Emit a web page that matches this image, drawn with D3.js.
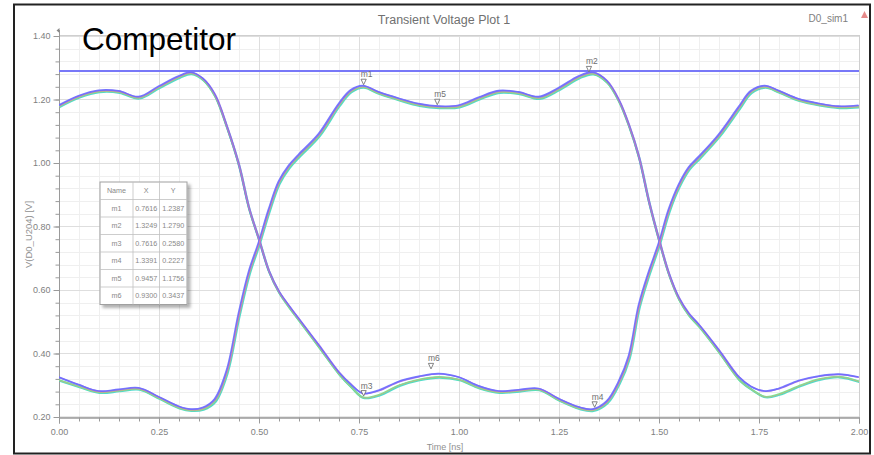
<!DOCTYPE html>
<html>
<head>
<meta charset="utf-8">
<script src="https://cdn.jsdelivr.net/npm/d3@7"></script>
<style>
  html, body { margin: 0; padding: 0; background: #fff; }
  svg { display: block; font-family: "Liberation Sans", Arial, sans-serif; }
</style>
</head>
<body>
<svg id="chart" width="874" height="455"></svg>
<script>
// ---------------- DATA ----------------
const chartTitle = "Transient Voltage Plot 1";
const simName = "D0_sim1";
const overlayText = "Competitor";
const xAxisTitle = "Time [ns]";
const yAxisTitle = "V(D0_U204) [V]";

const xTickValues = [0, 0.25, 0.5, 0.75, 1.0, 1.25, 1.5, 1.75, 2.0];
const xTickLabels = ["0.00", "0.25", "0.50", "0.75", "1.00", "1.25", "1.50", "1.75", "2.00"];
const yTickValues = [0.2, 0.4, 0.6, 0.8, 1.0, 1.2, 1.4];
const yTickLabels = ["0.20", "0.40", "0.60", "0.80", "1.00", "1.20", "1.40"];

const refLevel = 1.29;

const times = [0, 0.05, 0.1, 0.15, 0.2, 0.25, 0.3, 0.33, 0.36, 0.39, 0.42, 0.45, 0.475, 0.5, 0.525, 0.55, 0.575, 0.6, 0.65, 0.7, 0.73, 0.76, 0.8, 0.85, 0.9, 0.95, 1.0, 1.05, 1.1, 1.15, 1.2, 1.25, 1.3, 1.335, 1.37, 1.4, 1.425, 1.45, 1.475, 1.5, 1.525, 1.55, 1.575, 1.6, 1.65, 1.7, 1.73, 1.765, 1.8, 1.85, 1.9, 1.95, 2.0];

// trace starting high (falls at 0.5 ns, rises at 1.5 ns)
const traceA_blue  = [1.18, 1.21, 1.227, 1.225, 1.207, 1.24, 1.272, 1.284, 1.265, 1.215, 1.115, 0.995, 0.86, 0.76, 0.66, 0.595, 0.55, 0.508, 0.425, 0.34, 0.302, 0.273, 0.282, 0.31, 0.326, 0.335, 0.324, 0.296, 0.28, 0.284, 0.288, 0.256, 0.23, 0.223, 0.248, 0.31, 0.39, 0.55, 0.655, 0.745, 0.852, 0.93, 0.985, 1.018, 1.088, 1.175, 1.225, 1.242, 1.226, 1.2, 1.186, 1.177, 1.18];
const traceA_green = [1.178, 1.208, 1.225, 1.223, 1.205, 1.238, 1.27, 1.282, 1.262, 1.21, 1.11, 0.99, 0.855, 0.757, 0.657, 0.592, 0.546, 0.504, 0.42, 0.335, 0.295, 0.262, 0.27, 0.3, 0.318, 0.326, 0.318, 0.292, 0.278, 0.282, 0.286, 0.253, 0.227, 0.221, 0.245, 0.306, 0.385, 0.545, 0.65, 0.742, 0.848, 0.926, 0.981, 1.014, 1.084, 1.171, 1.222, 1.239, 1.223, 1.197, 1.183, 1.175, 1.177];

// trace starting low (rises at 0.5 ns, falls at 1.5 ns)
const traceB_blue  = [0.324, 0.3, 0.28, 0.285, 0.29, 0.262, 0.232, 0.223, 0.228, 0.255, 0.345, 0.525, 0.655, 0.748, 0.852, 0.94, 0.99, 1.025, 1.09, 1.185, 1.228, 1.242, 1.222, 1.202, 1.185, 1.177, 1.18, 1.205, 1.226, 1.222, 1.207, 1.235, 1.272, 1.284, 1.258, 1.198, 1.12, 1.02, 0.88, 0.76, 0.652, 0.575, 0.525, 0.49, 0.41, 0.325, 0.295, 0.28, 0.288, 0.313, 0.327, 0.333, 0.324];
const traceB_green = [0.316, 0.296, 0.278, 0.283, 0.288, 0.259, 0.229, 0.221, 0.225, 0.25, 0.34, 0.52, 0.65, 0.745, 0.848, 0.936, 0.986, 1.021, 1.086, 1.181, 1.225, 1.239, 1.219, 1.199, 1.182, 1.175, 1.177, 1.202, 1.223, 1.219, 1.204, 1.232, 1.269, 1.281, 1.254, 1.193, 1.115, 1.015, 0.875, 0.755, 0.647, 0.57, 0.52, 0.485, 0.404, 0.318, 0.288, 0.264, 0.272, 0.298, 0.319, 0.327, 0.312];

const markerNames = ["m1", "m2", "m3", "m4", "m5", "m6"];
const markerX = [0.7616, 1.3249, 0.7616, 1.3391, 0.9457, 0.9300];
const markerY = [1.2387, 1.2790, 0.2580, 0.2227, 1.1756, 0.3437];
const markerXText = ["0.7616", "1.3249", "0.7616", "1.3391", "0.9457", "0.9300"];
const markerYText = ["1.2387", "1.2790", "0.2580", "0.2227", "1.1756", "0.3437"];

// ---------------- DRAW ----------------
const svg = d3.select("#chart");
const W = 874, H = 455;
const L = 59, R = 859, T = 36, B = 417;

const x = d3.scaleLinear().domain([0, 2]).range([L, R]);
const y = d3.scaleLinear().domain([0.2, 1.4]).range([B, T]);

svg.append("rect").attr("width", W).attr("height", H).attr("fill", "#fff");

// defs
const defs = svg.append("defs");
defs.append("clipPath").attr("id", "plotClip")
  .append("rect").attr("x", L).attr("y", T).attr("width", R - L).attr("height", B - T);
const f = defs.append("filter").attr("id", "shadow").attr("x", "-10%").attr("y", "-10%").attr("width", "130%").attr("height", "130%");
f.append("feDropShadow").attr("dx", 3).attr("dy", 3).attr("stdDeviation", 1.5).attr("flood-color", "#000").attr("flood-opacity", 0.3);

// grid: minor
const xMinor = d3.range(0, 2.0001, 0.05);
const yMinor = d3.range(0.2, 1.4001, 0.04);
const grid = svg.append("g");
grid.selectAll(".xm").data(xMinor).join("line")
  .attr("x1", d => Math.round(x(d)) + 0.5).attr("x2", d => Math.round(x(d)) + 0.5)
  .attr("y1", T).attr("y2", B).attr("stroke", "#efefef").attr("stroke-width", 1);
grid.selectAll(".ym").data(yMinor).join("line")
  .attr("y1", d => Math.round(y(d)) + 0.5).attr("y2", d => Math.round(y(d)) + 0.5)
  .attr("x1", L).attr("x2", R).attr("stroke", "#efefef").attr("stroke-width", 1);
// grid: major
grid.selectAll(".xM").data(xTickValues).join("line")
  .attr("x1", d => Math.round(x(d)) + 0.5).attr("x2", d => Math.round(x(d)) + 0.5)
  .attr("y1", T).attr("y2", B).attr("stroke", "#dedede").attr("stroke-width", 1);
grid.selectAll(".yM").data(yTickValues).join("line")
  .attr("y1", d => Math.round(y(d)) + 0.5).attr("y2", d => Math.round(y(d)) + 0.5)
  .attr("x1", L).attr("x2", R).attr("stroke", "#dedede").attr("stroke-width", 1);

// plot border (top/right)
svg.append("rect").attr("x", L + 0.5).attr("y", T - 0.5).attr("width", R - L).attr("height", B - T + 0.5)
  .attr("fill", "none").attr("stroke", "#cfcfcf").attr("stroke-width", 1);

// axes
const axisColor = "#9a9a9a";
const textColor = "#808080";
const yMinorAxis = svg.append("g").attr("transform", `translate(${L + 0.5},0)`)
  .call(d3.axisLeft(y).tickValues(yMinor).tickSize(4).tickFormat(""));
const yAxis = svg.append("g").attr("transform", `translate(${L + 0.5},0)`)
  .call(d3.axisLeft(y).tickValues(yTickValues).tickSize(6).tickPadding(3)
    .tickFormat((d, i) => yTickLabels[i]));
const xMinorAxis = svg.append("g").attr("transform", `translate(0,${B + 0.5})`)
  .call(d3.axisBottom(x).tickValues(xMinor).tickSize(4).tickFormat(""));
const xAxis = svg.append("g").attr("transform", `translate(0,${B + 0.5})`)
  .call(d3.axisBottom(x).tickValues(xTickValues).tickSize(6).tickPadding(5)
    .tickFormat((d, i) => xTickLabels[i]));
[yMinorAxis, yAxis, xMinorAxis, xAxis].forEach(g => {
  g.selectAll("path").attr("stroke", axisColor);
  g.selectAll("line").attr("stroke", axisColor);
  g.selectAll("text").attr("fill", textColor).attr("font-size", 9)
    .attr("font-family", "'Liberation Sans', Arial, sans-serif");
});
yAxis.select(".domain").remove();
yMinorAxis.select(".domain").attr("d", `M0,${T - 6}V${B}`);
// little arrow at top of y axis
svg.append("path").attr("d", `M${L + 0.5},${T - 8} l-3,2.5 l3,2.5 Z`).attr("fill", "#888");

// reference line
svg.append("line").attr("x1", L).attr("x2", R).attr("y1", y(refLevel)).attr("y2", y(refLevel))
  .attr("stroke", "#7878f8").attr("stroke-width", 2);

// traces
const lineGen = d3.line().x((d, i) => x(times[i])).y(d => y(d)).curve(d3.curveCatmullRom.alpha(0.5));
const traces = svg.append("g").attr("clip-path", "url(#plotClip)");
const traceStyles = [
  { data: traceA_green, color: "#3fd6c8", w: 2.2, dx: 0.6, dy: 0.6 },
  { data: traceB_green, color: "#3fd6c8", w: 2.2, dx: 0.6, dy: 0.6 },
  { data: traceA_green, color: "#66ee88", w: 1.8, dx: 0, dy: 0 },
  { data: traceB_green, color: "#66ee88", w: 1.8, dx: 0, dy: 0 },
  { data: traceA_blue, color: "#a66ee0", w: 1.4, dx: 0.3, dy: -0.3 },
  { data: traceB_blue, color: "#a66ee0", w: 1.4, dx: 0.3, dy: -0.3 },
  { data: traceA_blue, color: "#6b6bff", w: 1.7, dx: -0.5, dy: -0.6 },
  { data: traceB_blue, color: "#6b6bff", w: 1.7, dx: -0.5, dy: -0.6 },
  { data: traceA_green, color: "#ff8a8a", w: 0.6, dx: 0.2, dy: 0.2 },
  { data: traceB_green, color: "#ff8a8a", w: 0.6, dx: 0.2, dy: 0.2 }
];
traceStyles.forEach(s => {
  traces.append("path").datum(s.data).attr("d", lineGen)
    .attr("transform", `translate(${s.dx},${s.dy})`)
    .attr("fill", "none").attr("stroke", s.color).attr("stroke-width", s.w)
    .attr("stroke-opacity", 0.9);
});

// markers
const mk = svg.append("g");
markerNames.forEach((n, i) => {
  const px = x(markerX[i]), py = y(markerY[i]);
  mk.append("path").attr("d", `M${px - 2.6},${py - 8} L${px + 2.6},${py - 8} L${px},${py - 2.5} Z`)
    .attr("fill", "#fff").attr("stroke", "#666").attr("stroke-width", 0.8);
  mk.append("text").attr("x", px - 3).attr("y", py - 10).text(n)
    .attr("font-size", 8.5).attr("fill", "#707070");
});

// marker table
const tbl = { x: 100, y: 182, colW: [33, 26.5, 27.5], rowH: 17.5 };
const tw = d3.sum(tbl.colW), th = tbl.rowH * (markerNames.length + 1);
const tg = svg.append("g");
tg.append("rect").attr("x", tbl.x).attr("y", tbl.y).attr("width", tw).attr("height", th)
  .attr("fill", "#fff").attr("stroke", "#a0a0a0").attr("stroke-width", 1).attr("filter", "url(#shadow)");
const headers = ["Name", "X", "Y"];
const rows = [headers].concat(markerNames.map((n, i) => [n, markerXText[i], markerYText[i]]));
rows.forEach((r, ri) => {
  if (ri > 0) tg.append("line").attr("x1", tbl.x).attr("x2", tbl.x + tw)
    .attr("y1", tbl.y + ri * tbl.rowH).attr("y2", tbl.y + ri * tbl.rowH)
    .attr("stroke", "#c0c0c0").attr("stroke-width", 0.8);
  let cx = tbl.x;
  r.forEach((c, ci) => {
    tg.append("text").attr("x", cx + tbl.colW[ci] / 2).attr("y", tbl.y + ri * tbl.rowH + tbl.rowH / 2 + 2.5)
      .attr("text-anchor", "middle").attr("font-size", 7.2).attr("fill", "#888").text(c);
    cx += tbl.colW[ci];
  });
});
let cxl = tbl.x;
tbl.colW.slice(0, -1).forEach(w => {
  cxl += w;
  tg.append("line").attr("x1", cxl).attr("x2", cxl).attr("y1", tbl.y).attr("y2", tbl.y + th)
    .attr("stroke", "#c0c0c0").attr("stroke-width", 0.8);
});

// titles
svg.append("text").attr("x", 444).attr("y", 24).attr("text-anchor", "middle")
  .attr("font-size", 12.5).attr("fill", "#707070").text(chartTitle);
svg.append("text").attr("x", 848).attr("y", 22).attr("text-anchor", "end")
  .attr("font-size", 10).attr("fill", "#808080").text(simName);
svg.append("path").attr("d", "M864.5,11 L868,18 L861,18 Z").attr("fill", "#e58a8a");
svg.append("text").attr("transform", `translate(32,${(T + B) / 2 + 8}) rotate(-90)`)
  .attr("text-anchor", "middle").attr("font-size", 9.5).attr("fill", "#909090").text(yAxisTitle);
svg.append("text").attr("x", 445).attr("y", 450).attr("text-anchor", "middle")
  .attr("font-size", 9).attr("fill", "#909090").text(xAxisTitle);

// overlay label
svg.append("text").attr("x", 82).attr("y", 50).attr("font-size", 31.5).attr("fill", "#000")
  .attr("font-family", "'Liberation Sans', Arial, sans-serif").text(overlayText);

// outer frame
svg.append("rect").attr("x", 14).attr("y", 4.5).attr("width", 856).attr("height", 449)
  .attr("fill", "none").attr("stroke", "#222").attr("stroke-width", 2);
</script>
</body>
</html>
